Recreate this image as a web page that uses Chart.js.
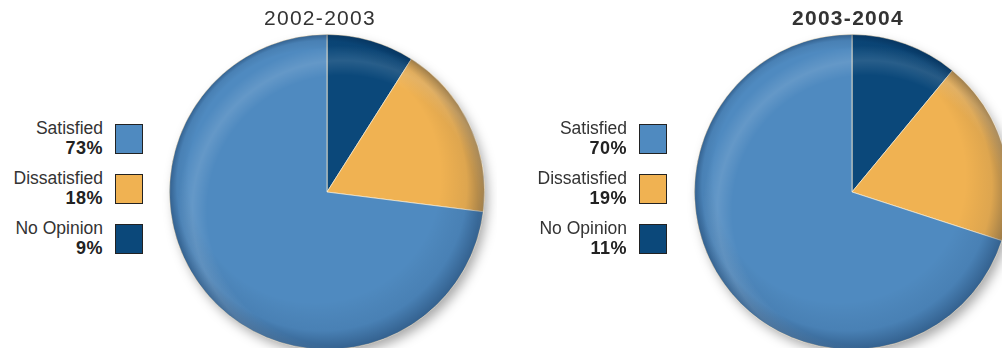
<!DOCTYPE html>
<html><head><meta charset="utf-8">
<script src="https://cdn.jsdelivr.net/npm/chart.js@4/dist/chart.umd.min.js"></script>
<style>
html,body{margin:0;padding:0;background:#fff;width:1002px;height:348px;overflow:hidden;position:relative;font-family:"Liberation Sans",Arial,Helvetica,sans-serif;}
.title{position:absolute;top:6px;width:200px;text-align:center;font-size:21px;letter-spacing:1.3px;color:#333;}
.lab{position:absolute;text-align:right;width:160px;line-height:20px;color:#333;font-size:17.5px;}
.lab b{font-size:18px;color:#222;letter-spacing:0.5px;}
.sw{position:absolute;width:26px;height:28px;border:1.5px solid #222;}
canvas{position:absolute;}
#w1,#w2{position:absolute;width:340px;height:340px;}
</style></head><body>
<div id="w1" style="left:157px;top:22px;"><canvas id="c1"></canvas></div>
<div id="w2" style="left:682px;top:22px;"><canvas id="c2"></canvas></div>
<div id="legends"></div>
<script>
const categories = ["No Opinion", "Dissatisfied", "Satisfied"];
const values2002 = [9, 18, 73];
const values2003 = [11, 19, 70];
const titles = ["2002-2003", "2003-2004"];
const colors = ["#0B487A", "#F0B252", "#4F8AC0"];

// legends (order: Satisfied, Dissatisfied, No Opinion)
const legendOrder = [2, 1, 0];
const legendSets = [
  {vals: values2002, textRight: 103, swLeft: 115, titleCenter: 320, bold: false},
  {vals: values2003, textRight: 627, swLeft: 639, titleCenter: 848, bold: true}
];
const L = document.getElementById('legends');
legendSets.forEach((s, si) => {
  const t = document.createElement('div');
  t.className = 'title';
  t.style.left = (s.titleCenter - 100) + 'px';
  t.style.fontWeight = s.bold ? 'bold' : 'normal';
  t.textContent = titles[si];
  L.appendChild(t);
  legendOrder.forEach((ci, k) => {
    const d = document.createElement('div');
    d.className = 'lab';
    d.style.left = (s.textRight - 160) + 'px';
    d.style.top = (118 + 50 * k) + 'px';
    d.innerHTML = categories[ci] + '<br><b>' + s.vals[ci] + '%</b>';
    L.appendChild(d);
    const q = document.createElement('div');
    q.className = 'sw';
    q.style.left = s.swLeft + 'px';
    q.style.top = (124 + 50 * k) + 'px';
    q.style.background = colors[ci];
    L.appendChild(q);
  });
});

const shade = {
  id: 'shade',
  beforeDatasetsDraw(chart) {
    const m = chart.getDatasetMeta(0).data[0];
    const ctx = chart.ctx;
    ctx.save();
    ctx.shadowColor = 'rgba(0,0,0,0.35)';
    ctx.shadowBlur = 12;
    ctx.shadowOffsetX = 4;
    ctx.shadowOffsetY = 6;
    ctx.beginPath();
    ctx.arc(m.x, m.y, m.outerRadius - 1, 0, Math.PI * 2);
    ctx.fillStyle = '#3a6f9f';
    ctx.fill();
    ctx.restore();
  },
  afterDatasetsDraw(chart) {
    const m = chart.getDatasetMeta(0).data[0];
    const ctx = chart.ctx, r = m.outerRadius;
    ctx.save();
    const g = ctx.createRadialGradient(m.x - r * 0.08, m.y - r * 0.1, r * 0.8, m.x, m.y, r);
    g.addColorStop(0, 'rgba(0,0,0,0)');
    g.addColorStop(0.6, 'rgba(0,20,50,0.08)');
    g.addColorStop(1, 'rgba(0,20,50,0.35)');
    ctx.beginPath();
    ctx.arc(m.x, m.y, r, 0, Math.PI * 2);
    ctx.fillStyle = g;
    ctx.fill();
    const h = ctx.createRadialGradient(m.x + r * 0.1, m.y + r * 0.12, r * 0.86, m.x + r * 0.1, m.y + r * 0.12, r * 1.05);
    h.addColorStop(0, 'rgba(255,255,255,0)');
    h.addColorStop(0.5, 'rgba(255,255,255,0.12)');
    h.addColorStop(1, 'rgba(255,255,255,0)');
    ctx.beginPath();
    ctx.arc(m.x, m.y, r, 0, Math.PI * 2);
    ctx.clip();
    ctx.fillStyle = h;
    ctx.fillRect(m.x - r, m.y - r, 2 * r, 2 * r);
    ctx.restore();
  }
};

function makePie(id, vals) {
  new Chart(document.getElementById(id), {
    type: 'pie',
    data: {labels: categories, datasets: [{data: vals, backgroundColor: colors, borderColor: 'rgba(255,240,210,0.7)', borderWidth: 1}]},
    options: {
      responsive: true, maintainAspectRatio: false, animation: false,
      layout: {padding: 12},
      plugins: {legend: {display: false}, tooltip: {enabled: false}, title: {display: false}}
    },
    plugins: [shade]
  });
}
makePie('c1', values2002);
makePie('c2', values2003);
</script>
</body></html>
